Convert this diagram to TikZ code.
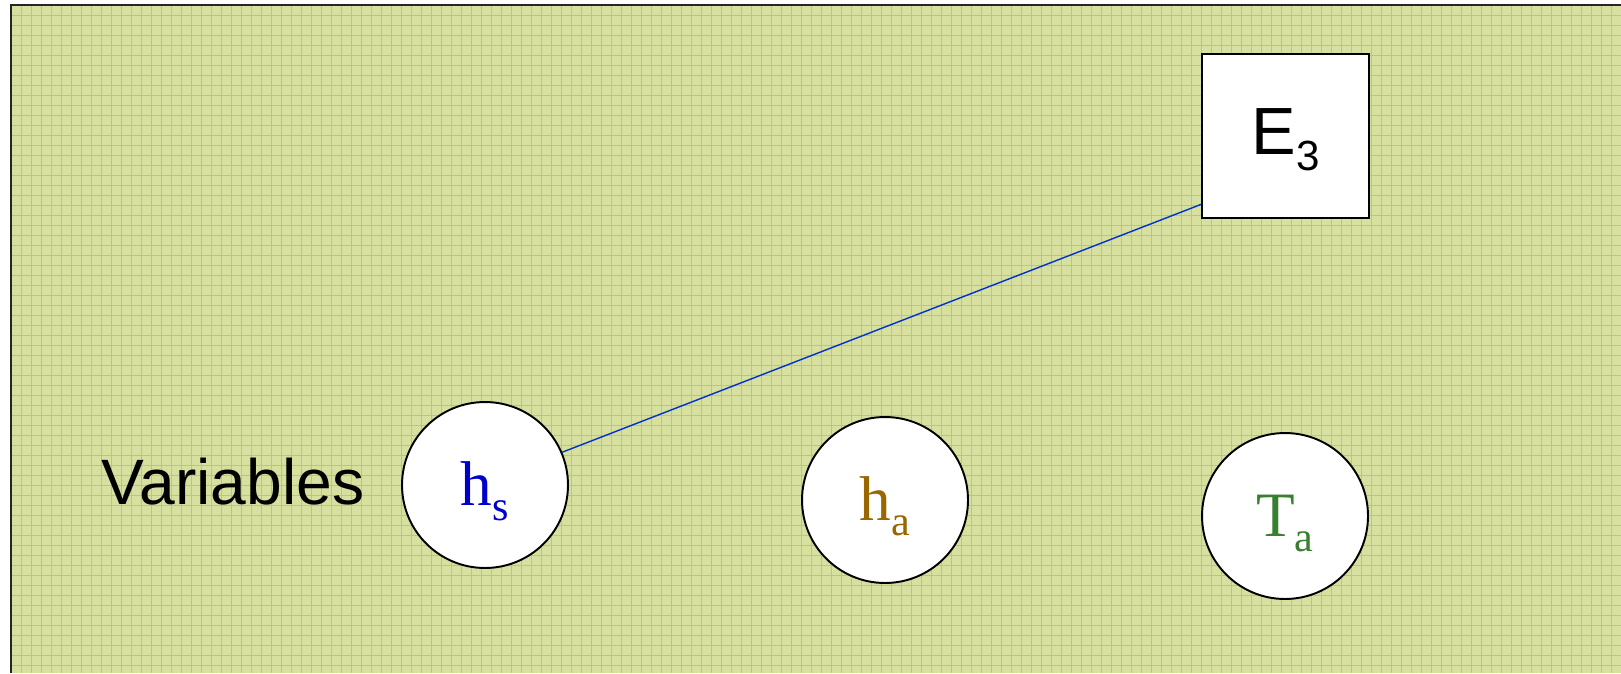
\documentclass[tikz,border=0pt]{standalone}
\usepackage{fontspec}
\setmainfont{Liberation Serif}
\setsansfont{Liberation Sans}
\definecolor{paper}{RGB}{215,224,158}
\definecolor{gridline}{RGB}{186,204,96}
\definecolor{hsblue}{RGB}{0,0,204}
\definecolor{habrown}{RGB}{153,102,0}
\definecolor{tagreen}{RGB}{56,128,48}
\definecolor{linkblue}{RGB}{0,51,204}
\newcommand{\lowsub}[1]{\raisebox{-9pt}{\fontsize{24}{26}\selectfont #1}}
\tikzset{
  var/.style={draw, circle, fill=white, line width=1.1pt, minimum size=3.32cm, inner sep=0pt, text height=32pt, font=\fontsize{36}{40}\selectfont},
  eqbox/.style={draw, rectangle, fill=white, line width=1.1pt, minimum width=3.34cm, minimum height=3.28cm, inner sep=0pt, text height=30pt, font=\sffamily\fontsize{38}{40}\selectfont},
  link/.style={draw=linkblue, line width=0.8pt}
}
\begin{document}
\begin{tikzpicture}[x=0.02cm, y=-0.02cm]
  \useasboundingbox (0,0) rectangle (1621,673);
  % background sheet with grid
  \fill[paper] (11,5) rectangle (1621,673);
  \foreach \gx in {21,31,...,1621} \draw[gridline, line width=0.5pt] (\gx,5) -- (\gx,673);
  \foreach \gy in {15,25,...,673} \draw[gridline, line width=0.5pt] (11,\gy) -- (1621,\gy);
  \draw[black!85, line width=1.2pt] (11,673) -- (11,5) -- (1621,5);

  \node (E3) [eqbox] at (1285.5,136) {E\lowsub{3}};
  \node (hs) [var, text=hsblue] at (485,485) {h\lowsub{s}};
  \node (ha) [var, text=habrown] at (885,500) {h\lowsub{a}};
  \node (Ta) [var, text=tagreen] at (1285,516) {T\lowsub{a}};
  \node (vars) [anchor=base, font=\sffamily\fontsize{36.5}{40}\selectfont] at (233,504) {Variables};

  \draw[link] (hs.23) -- (E3.219);
\end{tikzpicture}
\end{document}
